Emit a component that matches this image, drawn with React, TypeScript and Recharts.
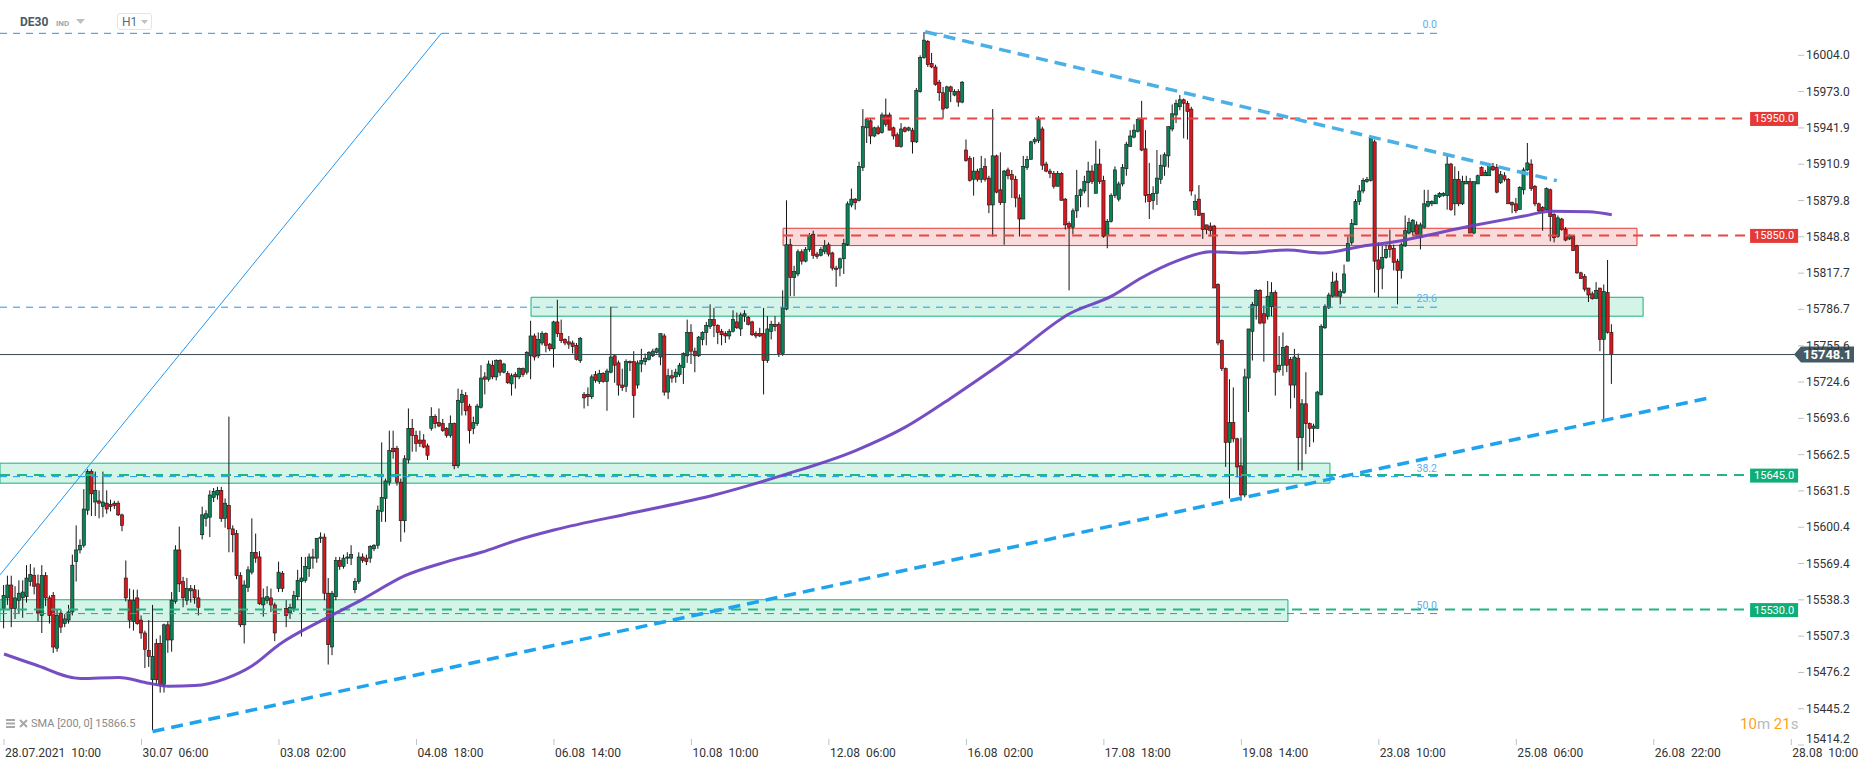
import React from 'react';
import {
  ComposedChart,
  Bar,
  Line,
  XAxis,
  YAxis,
  ReferenceLine,
  ReferenceArea,
  ReferenceDot,
} from 'recharts';

// ---------------------------------------------------------------------------
// Theme
// ---------------------------------------------------------------------------
const FONT = 'Roboto, "Noto Sans", sans-serif';
const UP = '#0a8456';
const DOWN = '#d7191f';
const WICK = '#151515';
const FIB_BLUE = '#2196f3';
const GREEN_LINE = '#1fb884';
const RED_LINE = '#e84545';
const SMA_COLOR = '#6a3fbf';
const AXIS_TEXT = '#333333';

// ---------------------------------------------------------------------------
// Data (H1 candles: open, high, low, close)
// ---------------------------------------------------------------------------
const CANDLES: [number, number, number, number][] = [
  [15531, 15551, 15514, 15542], [15540, 15559, 15534, 15551], [15551, 15559, 15515, 15531], [15531, 15550, 15522, 15540],
  [15538, 15555, 15527, 15544], [15540, 15555, 15523, 15545], [15541, 15568, 15536, 15557], [15554, 15569, 15550, 15560],
  [15559, 15566, 15543, 15550], [15552, 15560, 15520, 15527], [15525, 15568, 15510, 15559], [15559, 15562, 15533, 15540],
  [15540, 15542, 15518, 15525], [15542, 15545, 15493, 15498], [15497, 15530, 15494, 15525], [15527, 15530, 15510, 15515],
  [15518, 15526, 15515, 15522], [15521, 15534, 15518, 15528], [15528, 15577, 15525, 15568], [15571, 15602, 15554, 15581],
  [15581, 15590, 15578, 15585], [15585, 15633, 15583, 15616], [15615, 15650, 15611, 15648], [15648, 15650, 15610, 15629],
  [15622, 15648, 15610, 15632], [15623, 15632, 15608, 15621], [15618, 15648, 15609, 15622], [15621, 15632, 15612, 15616],
  [15620, 15624, 15614, 15618], [15621, 15623, 15616, 15619], [15621, 15623, 15610, 15611], [15611, 15612, 15597, 15602],
  [15557, 15572, 15537, 15540], [15538, 15548, 15514, 15521], [15520, 15547, 15512, 15538], [15540, 15547, 15517, 15518],
  [15521, 15525, 15505, 15510], [15510, 15512, 15480, 15496], [15495, 15521, 15481, 15490], [15470, 15534, 15427, 15490],
  [15501, 15505, 15466, 15470], [15501, 15508, 15459, 15466], [15466, 15518, 15459, 15517], [15517, 15520, 15493, 15504],
  [15504, 15545, 15494, 15538], [15537, 15585, 15535, 15581], [15581, 15601, 15545, 15552], [15554, 15558, 15532, 15540],
  [15538, 15557, 15534, 15548], [15546, 15551, 15536, 15548], [15547, 15551, 15535, 15540], [15540, 15547, 15525, 15532],
  [15594, 15618, 15590, 15611], [15608, 15615, 15601, 15612], [15609, 15632, 15592, 15628], [15626, 15634, 15622, 15631],
  [15628, 15635, 15624, 15632], [15632, 15635, 15605, 15608], [15608, 15625, 15600, 15621], [15619, 15695, 15579, 15599],
  [15599, 15602, 15579, 15594], [15595, 15598, 15556, 15559], [15559, 15562, 15515, 15517], [15517, 15555, 15501, 15551],
  [15549, 15567, 15545, 15564], [15562, 15608, 15560, 15579], [15579, 15595, 15570, 15574], [15575, 15580, 15534, 15535],
  [15534, 15548, 15524, 15540], [15538, 15550, 15535, 15541], [15540, 15548, 15528, 15534], [15534, 15536, 15503, 15510],
  [15548, 15571, 15545, 15562],
  [15561, 15563, 15545, 15548], [15531, 15538, 15515, 15525], [15527, 15535, 15522, 15532], [15531, 15546, 15528, 15542],
  [15541, 15564, 15538, 15555], [15554, 15575, 15507, 15557], [15555, 15575, 15553, 15567], [15565, 15578, 15558, 15575],
  [15575, 15582, 15565, 15574], [15574, 15591, 15570, 15591], [15591, 15596, 15587, 15592], [15592, 15595, 15538, 15544],
  [15544, 15557, 15483, 15500], [15498, 15546, 15491, 15544], [15541, 15575, 15538, 15572], [15572, 15575, 15564, 15567],
  [15567, 15577, 15565, 15574], [15574, 15579, 15569, 15575], [15574, 15585, 15568, 15577], [15547, 15557, 15544, 15554],
  [15554, 15579, 15552, 15575], [15575, 15578, 15570, 15572], [15574, 15577, 15568, 15571], [15574, 15585, 15570, 15584],
  [15582, 15586, 15580, 15585], [15585, 15619, 15582, 15615], [15614, 15673, 15605, 15626], [15625, 15642, 15605, 15640],
  [15639, 15683, 15636, 15666], [15668, 15683, 15659, 15665], [15668, 15670, 15636, 15639], [15639, 15642, 15588, 15606],
  [15606, 15662, 15596, 15659], [15658, 15702, 15655, 15685], [15685, 15693, 15665, 15679], [15679, 15683, 15665, 15672],
  [15675, 15683, 15669, 15672], [15675, 15680, 15668, 15669], [15670, 15672, 15658, 15662], [15685, 15703, 15683, 15695],
  [15695, 15697, 15685, 15689], [15690, 15702, 15686, 15687], [15689, 15693, 15682, 15683], [15685, 15686, 15677, 15679],
  [15679, 15696, 15677, 15689], [15689, 15690, 15650, 15653], [15653, 15719, 15651, 15709], [15707, 15718, 15696, 15714],
  [15713, 15716, 15696, 15700], [15704, 15706, 15672, 15683], [15685, 15695, 15680, 15690], [15689, 15706, 15687, 15704],
  [15703, 15739, 15702, 15728], [15729, 15733, 15714, 15727], [15727, 15743, 15725, 15740], [15739, 15743, 15727, 15729],
  [15729, 15744, 15726, 15743], [15743, 15744, 15730, 15733], [15733, 15741, 15732, 15740], [15732, 15734, 15723, 15724],
  [15723, 15732, 15713, 15730], [15731, 15733, 15719, 15729], [15729, 15737, 15727, 15736], [15736, 15737, 15729, 15731],
  [15733, 15751, 15731, 15750], [15747, 15777, 15727, 15764], [15764, 15766, 15743, 15746], [15747, 15767, 15745, 15761],
  [15758, 15768, 15756, 15766], [15766, 15767, 15750, 15756], [15757, 15758, 15751, 15753], [15753, 15777, 15737, 15776],
  [15776, 15795, 15763, 15766], [15766, 15778, 15758, 15760],
  [15761, 15762, 15756, 15758], [15759, 15764, 15753, 15757], [15758, 15760, 15749, 15755], [15756, 15758, 15743, 15744],
  [15743, 15763, 15741, 15762], [15714, 15716, 15702, 15711], [15714, 15720, 15704, 15712], [15712, 15731, 15710, 15729],
  [15731, 15734, 15724, 15726], [15725, 15735, 15723, 15732], [15732, 15733, 15724, 15725], [15725, 15736, 15700, 15734],
  [15733, 15789, 15732, 15746], [15747, 15748, 15724, 15739], [15741, 15743, 15713, 15722], [15722, 15736, 15717, 15720],
  [15721, 15744, 15716, 15742], [15742, 15743, 15734, 15741], [15742, 15751, 15694, 15713], [15722, 15743, 15719, 15741],
  [15740, 15753, 15733, 15743], [15742, 15749, 15739, 15745], [15744, 15751, 15743, 15750], [15747, 15753, 15746, 15751],
  [15750, 15754, 15749, 15753], [15746, 15766, 15739, 15766], [15764, 15766, 15713, 15716], [15716, 15736, 15710, 15730],
  [15730, 15735, 15724, 15728], [15729, 15736, 15724, 15733], [15731, 15741, 15729, 15739], [15737, 15750, 15723, 15749],
  [15747, 15778, 15741, 15767], [15767, 15774, 15740, 15751], [15751, 15754, 15733, 15747], [15747, 15764, 15746, 15763],
  [15761, 15768, 15756, 15767], [15767, 15776, 15756, 15773], [15772, 15791, 15770, 15778], [15778, 15788, 15763, 15773],
  [15773, 15774, 15757, 15767], [15768, 15770, 15756, 15765], [15766, 15768, 15758, 15764], [15764, 15770, 15761, 15768],
  [15768, 15786, 15767, 15778], [15776, 15784, 15770, 15771], [15770, 15784, 15764, 15782], [15781, 15786, 15776, 15783],
  [15780, 15781, 15773, 15774], [15776, 15777, 15764, 15765], [15766, 15768, 15762, 15764], [15766, 15771, 15763, 15764],
  [15766, 15788, 15714, 15743], [15743, 15781, 15741, 15770], [15768, 15777, 15761, 15774], [15774, 15781, 15768, 15772],
  [15774, 15776, 15746, 15749], [15749, 15803, 15747, 15788], [15787, 15880, 15786, 15842], [15842, 15847, 15798, 15814],
  [15814, 15824, 15798, 15819], [15817, 15838, 15815, 15836], [15836, 15838, 15825, 15828], [15828, 15840, 15827, 15838],
  [15838, 15852, 15836, 15850], [15851, 15854, 15830, 15833], [15834, 15836, 15830, 15832], [15833, 15840, 15832, 15838],
  [15836, 15846, 15834, 15841], [15842, 15844, 15832, 15834], [15835, 15836, 15820, 15822], [15822, 15824, 15806, 15821],
  [15822, 15831, 15815, 15830], [15830, 15847, 15817, 15843], [15842, 15879, 15841, 15877],
  [15876, 15890, 15874, 15881], [15881, 15882, 15872, 15878], [15880, 15913, 15879, 15909], [15908, 15958, 15905, 15943],
  [15942, 15950, 15929, 15949], [15948, 15950, 15928, 15935], [15935, 15943, 15934, 15942], [15942, 15944, 15936, 15937],
  [15938, 15955, 15937, 15953], [15953, 15967, 15943, 15945], [15953, 15955, 15940, 15940], [15942, 15943, 15932, 15935],
  [15936, 15938, 15926, 15926], [15926, 15946, 15925, 15941], [15942, 15943, 15938, 15939], [15940, 15943, 15939, 15942],
  [15940, 15942, 15920, 15930], [15930, 15976, 15929, 15974], [15973, 16004, 15972, 16002], [16002, 16024, 16001, 16017],
  [16016, 16017, 15994, 15996], [15997, 16006, 15993, 15994], [15994, 15996, 15978, 15979], [15981, 15983, 15965, 15972],
  [15972, 15977, 15950, 15958], [15959, 15978, 15958, 15977], [15977, 15978, 15964, 15973], [15970, 15975, 15969, 15973],
  [15973, 15975, 15960, 15964], [15964, 15982, 15963, 15981], [15923, 15932, 15913, 15914], [15916, 15918, 15896, 15897],
  [15898, 15917, 15884, 15905], [15905, 15907, 15896, 15898], [15898, 15918, 15895, 15907], [15909, 15916, 15896, 15898],
  [15899, 15901, 15869, 15876], [15876, 15958, 15849, 15918], [15918, 15919, 15886, 15887], [15889, 15921, 15876, 15878],
  [15878, 15906, 15842, 15905], [15906, 15908, 15898, 15901], [15902, 15906, 15882, 15898], [15898, 15901, 15874, 15882],
  [15882, 15885, 15849, 15864], [15864, 15918, 15864, 15909], [15908, 15918, 15906, 15915], [15915, 15931, 15915, 15930],
  [15930, 15934, 15928, 15932], [15931, 15952, 15929, 15949], [15941, 15943, 15906, 15910], [15911, 15913, 15904, 15905],
  [15905, 15907, 15899, 15903], [15903, 15905, 15890, 15892], [15892, 15905, 15892, 15903], [15903, 15904, 15880, 15880],
  [15881, 15882, 15855, 15859], [15860, 15862, 15803, 15857], [15857, 15873, 15851, 15871], [15871, 15906, 15865, 15884],
  [15884, 15890, 15874, 15889], [15888, 15901, 15886, 15896], [15895, 15913, 15874, 15905], [15905, 15910, 15894, 15896],
  [15886, 15931, 15886, 15911], [15911, 15924, 15894, 15896], [15897, 15901, 15848, 15849], [15850, 15864, 15839, 15862],
  [15862, 15886, 15861, 15884], [15884, 15909, 15882, 15906],
  [15881, 15896, 15879, 15894], [15894, 15911, 15892, 15908], [15907, 15930, 15901, 15928], [15926, 15940, 15926, 15935],
  [15934, 15945, 15933, 15940], [15939, 15950, 15938, 15949], [15949, 15965, 15922, 15923], [15924, 15940, 15878, 15884],
  [15885, 15912, 15864, 15879], [15880, 15892, 15872, 15886], [15886, 15923, 15876, 15899], [15898, 15919, 15894, 15910],
  [15909, 15921, 15901, 15919], [15918, 15943, 15908, 15943], [15941, 15962, 15939, 15954], [15953, 15966, 15946, 15963],
  [15960, 15970, 15957, 15966], [15966, 15967, 15933, 15963], [15963, 15965, 15932, 15956], [15958, 15960, 15884, 15888],
  [15872, 15885, 15867, 15879], [15881, 15893, 15867, 15867], [15869, 15869, 15847, 15855], [15859, 15859, 15851, 15855],
  [15858, 15861, 15849, 15854], [15858, 15859, 15805, 15805], [15808, 15809, 15756, 15758], [15760, 15761, 15734, 15736],
  [15736, 15737, 15652, 15673], [15673, 15727, 15625, 15690], [15690, 15720, 15673, 15676], [15676, 15677, 15643, 15652],
  [15653, 15677, 15623, 15628], [15628, 15736, 15626, 15729], [15728, 15770, 15699, 15770], [15768, 15793, 15743, 15791],
  [15790, 15804, 15778, 15803], [15803, 15804, 15774, 15775], [15783, 15790, 15742, 15775], [15781, 15811, 15778, 15798],
  [15789, 15810, 15781, 15801], [15801, 15803, 15713, 15733], [15735, 15764, 15733, 15739], [15739, 15767, 15730, 15754],
  [15755, 15756, 15733, 15739], [15744, 15746, 15702, 15722], [15722, 15753, 15711, 15746], [15745, 15749, 15649, 15677],
  [15677, 15710, 15649, 15706], [15706, 15733, 15663, 15689], [15689, 15690, 15669, 15685], [15685, 15689, 15673, 15687],
  [15685, 15717, 15685, 15716], [15714, 15774, 15713, 15772], [15771, 15791, 15770, 15789], [15788, 15801, 15787, 15799],
  [15798, 15819, 15797, 15810], [15811, 15818, 15798, 15798], [15798, 15804, 15791, 15802], [15801, 15825, 15800, 15817],
  [15828, 15849, 15828, 15843], [15844, 15864, 15842, 15860], [15859, 15881, 15859, 15879], [15879, 15893, 15876, 15888],
  [15888, 15899, 15886, 15897], [15896, 15900, 15895, 15898], [15897, 15935, 15896, 15934], [15930, 15932, 15801, 15828],
  [15829, 15844, 15797, 15821], [15822, 15841, 15804, 15831], [15831, 15842, 15830, 15838], [15841, 15855, 15831, 15838],
  [15839, 15842, 15820, 15827], [15828, 15830, 15791, 15820], [15820, 15844, 15813, 15842], [15841, 15867, 15840, 15854],
  [15852, 15865, 15851, 15861], [15853, 15864, 15850, 15863], [15859, 15862, 15849, 15851], [15848, 15861, 15838, 15859],
  [15857, 15889, 15856, 15877], [15875, 15889, 15874, 15879], [15877, 15880, 15875, 15879], [15877, 15885, 15877, 15884],
  [15883, 15887, 15882, 15886], [15884, 15887, 15883, 15886], [15884, 15919, 15872, 15911], [15911, 15912, 15871, 15872],
  [15877, 15909, 15867, 15898], [15898, 15905, 15875, 15877], [15877, 15901, 15876, 15896], [15894, 15901, 15894, 15896],
  [15896, 15899, 15852, 15852], [15852, 15896, 15851, 15896], [15894, 15902, 15894, 15901], [15908, 15909, 15901, 15901],
  [15901, 15906, 15901, 15904], [15901, 15911, 15901, 15910], [15909, 15912, 15905, 15906], [15908, 15911, 15886, 15887],
  [15895, 15905, 15894, 15902], [15901, 15904, 15896, 15898], [15898, 15899, 15877, 15877], [15878, 15879, 15869, 15876],
  [15877, 15882, 15869, 15871], [15872, 15892, 15872, 15891], [15889, 15908, 15885, 15906], [15906, 15929, 15905, 15912],
  [15911, 15915, 15888, 15890], [15892, 15893, 15875, 15877], [15877, 15878, 15869, 15871], [15874, 15875, 15854, 15871],
  [15872, 15891, 15871, 15890], [15889, 15890, 15845, 15866], [15868, 15869, 15844, 15848], [15849, 15867, 15848, 15865],
  [15864, 15865, 15854, 15855], [15855, 15857, 15845, 15846], [15847, 15851, 15846, 15850], [15849, 15850, 15837, 15837],
  [15841, 15842, 15817, 15818], [15818, 15819, 15813, 15813], [15815, 15817, 15802, 15804], [15805, 15805, 15793, 15799],
  [15800, 15802, 15795, 15796], [15796, 15810, 15796, 15803], [15805, 15805, 15751, 15761], [15761, 15808, 15693, 15802],
  [15801, 15829, 15766, 15767], [15767, 15774, 15723, 15748.1],
];

// SMA(200): [candle index, value]
const SMA_POINTS: [number, number][] = [
  [0, 15492], [8, 15483], [20, 15471], [30, 15472], [38, 15467], [43, 15464.5], [50, 15465], [58, 15471],
  [65, 15482], [72, 15500], [84, 15522], [94, 15539], [105, 15559], [116, 15571], [125, 15579], [134, 15589],
  [144, 15598], [165, 15613], [186, 15628], [204, 15645], [223, 15666], [236, 15686], [248, 15711], [264, 15747],
  [279, 15783], [290, 15798], [298, 15814], [307, 15828], [316, 15836], [324, 15835], [336, 15837.5], [345, 15835],
  [356, 15841], [363, 15844], [384, 15858], [398, 15866.5], [405, 15870.7], [415, 15870.2], [421, 15867.6],
];

const X_TICKS = [0, 36, 72, 108, 144, 180, 216, 252, 288, 324, 360, 396, 432, 468];
const X_LABELS = [
  '28.07.2021  10:00', '30.07  06:00', '03.08  02:00', '04.08  18:00', '06.08  14:00', '10.08  10:00',
  '12.08  06:00', '16.08  02:00', '17.08  18:00', '19.08  14:00', '23.08  10:00', '25.08  06:00',
  '26.08  22:00', '28.08  10:00',
];
const X_DOMAIN: [number, number] = [-1.05, 469.76];

const Y_TICKS = [
  16004.0, 15973.0, 15941.9, 15910.9, 15879.8, 15848.8, 15817.7, 15786.7, 15755.6, 15724.6,
  15693.6, 15662.5, 15631.5, 15600.4, 15569.4, 15538.3, 15507.3, 15476.2, 15445.2, 15414.2,
];
const Y_DOMAIN: [number, number] = [15414.2, 16051.3];

const FIB_LEVELS = [
  { label: '0.0', price: 16022.8 },
  { label: '23.6', price: 15788.6 },
  { label: '38.2', price: 15643.7 },
  { label: '50.0', price: 15526.6 },
];
const FIB_END = 376.8;

const RED_LEVELS = [
  { price: 15950, from: 225.5 },
  { price: 15850, from: 204 },
];
const GREEN_LEVELS = [
  { price: 15645, from: -1.05 },
  { price: 15530, from: -1.05 },
];
const LEVEL_END = 456.1;
const LEVEL_TAG_X = 463.5;

const GREEN_ZONES = [
  { x1: 138, x2: 429.2, y1: 15780.9, y2: 15797.1 },
  { x1: -1.05, x2: 347.2, y1: 15638.1, y2: 15655.2 },
  { x1: -1.05, x2: 336.2, y1: 15519.8, y2: 15538.4 },
];
const RED_ZONE = { x1: 204, x2: 427.6, y1: 15841.3, y2: 15856.1 };

// [x1, y1, x2, y2] in candle index / price
const THIN_TREND: [number, number, number, number] = [-1.05, 15559.7, 114.6, 16023.1];
const UPPER_TREND: [number, number, number, number] = [241.2, 16024.2, 406.6, 15896.8];
const LOWER_TREND: [number, number, number, number] = [38.9, 15425.8, 447, 15711.4];

const LAST_PRICE = 15748.1;
const SMA_LABEL = 'SMA [200, 0] 15866.5';

const smaByIndex = new Map(SMA_POINTS.map(([i, v]) => [i, v]));
const chartData = CANDLES.map(([o, h, l, c], i) => ({
  i,
  o,
  h,
  l,
  c,
  range: [l, h],
  sma: smaByIndex.has(i) ? smaByIndex.get(i) : null,
}));

// ---------------------------------------------------------------------------
// Shapes
// ---------------------------------------------------------------------------
function Candle(props: any) {
  const { x, y, width, height, payload } = props;
  if (!payload || x == null || y == null) return null;
  const { o, h, l, c } = payload;
  const top = Math.min(y, y + height);
  const hh = Math.abs(height);
  const cx = x + width / 2;
  const k = h === l ? 0 : hh / (h - l);
  const yO = top + (h - o) * k;
  const yC = top + (h - c) * k;
  const bodyTop = Math.min(yO, yC);
  const bodyH = Math.max(Math.abs(yO - yC), 1);
  return (
    <g>
      <line x1={cx} x2={cx} y1={top} y2={top + hh} stroke={WICK} strokeWidth={1} />
      <rect
        x={cx - 1.6}
        y={bodyTop}
        width={3.2}
        height={bodyH}
        fill={c >= o ? UP : DOWN}
        stroke={WICK}
        strokeWidth={0.6}
      />
    </g>
  );
}

function XTick(props: any) {
  const { x, y, payload } = props;
  const idx = X_TICKS.indexOf(payload.value);
  return (
    <g>
      <line x1={x} x2={x} y1={y - 14} y2={y - 8} stroke="#b8c4ca" strokeWidth={1} />
      <text
        x={x + 1}
        y={y + 4}
        fill={AXIS_TEXT}
        fontSize={12}
        fontFamily={FONT}
        style={{ whiteSpace: 'pre' }}
      >
        {X_LABELS[idx] ?? ''}
      </text>
    </g>
  );
}

function YTick(props: any) {
  const { x, y, payload } = props;
  const v = Number(payload.value);
  const dy = v === Y_DOMAIN[0] ? -6 : 0;
  return (
    <g>
      <line x1={x - 8} x2={x - 2} y1={y} y2={y} stroke="#b8c4ca" strokeWidth={1} />
      <text x={x} y={y + dy + 4} fill={AXIS_TEXT} fontSize={12} fontFamily={FONT}>
        {v.toFixed(1)}
      </text>
    </g>
  );
}

function levelTag(text: string, color: string) {
  return (props: any) => {
    const { cx, cy } = props;
    return (
      <g>
        <rect x={cx - 24} y={cy - 6.5} width={48} height={14} fill={color} />
        <text
          x={cx}
          y={cy + 4}
          textAnchor="middle"
          fill="#ffffff"
          fontSize={11}
          fontFamily={FONT}
        >
          {text}
        </text>
      </g>
    );
  };
}

function lastPriceTag(props: any) {
  const { cx, cy } = props;
  const x0 = cx - 4;
  return (
    <g>
      <path
        d={`M${x0},${cy} L${x0 + 7},${cy - 8} L${x0 + 60},${cy - 8} L${x0 + 60},${cy + 8} L${x0 + 7},${cy + 8} Z`}
        fill="#455a64"
      />
      <text x={x0 + 9} y={cy + 4.5} fill="#ffffff" fontSize={13} fontWeight={700} fontFamily={FONT}>
        {LAST_PRICE.toFixed(1)}
      </text>
    </g>
  );
}

function fibTag(text: string) {
  return (props: any) => {
    const { cx, cy } = props;
    return (
      <text
        x={cx - 6}
        y={cy - 5}
        textAnchor="end"
        fill="#5aaef0"
        fontSize={10.5}
        fontFamily={FONT}
      >
        {text}
      </text>
    );
  };
}

// ---------------------------------------------------------------------------
// Component
// ---------------------------------------------------------------------------
export default function App() {
  return (
    <div
      style={{
        position: 'absolute',
        left: 0,
        top: 0,
        width: 1866,
        height: 770,
        background: '#ffffff',
        fontFamily: FONT,
        overflow: 'hidden',
      }}
    >
      <ComposedChart
        width={1866}
        height={770}
        data={chartData}
        margin={{ top: 0, right: 0, bottom: 0, left: 0 }}
      >
        <XAxis
          dataKey="i"
          type="number"
          domain={X_DOMAIN}
          allowDataOverflow
          ticks={X_TICKS}
          interval={0}
          height={25}
          axisLine={false}
          tickLine={false}
          tickSize={6}
          tickMargin={2}
          tick={<XTick />}
        />
        <YAxis
          orientation="right"
          domain={Y_DOMAIN}
          allowDataOverflow
          ticks={Y_TICKS}
          interval={0}
          width={68}
          axisLine={false}
          tickLine={false}
          tickSize={6}
          tickMargin={2}
          tick={<YTick />}
        />

        {/* Zones */}
        {GREEN_ZONES.map((z, k) => (
          <ReferenceArea
            key={`gz${k}`}
            x1={z.x1}
            x2={z.x2}
            y1={z.y1}
            y2={z.y2}
            fill="rgb(0,190,120)"
            fillOpacity={0.17}
            stroke="#16b27c"
            strokeWidth={1}
            strokeOpacity={1}
            ifOverflow="visible"
          />
        ))}
        <ReferenceArea
          x1={RED_ZONE.x1}
          x2={RED_ZONE.x2}
          y1={RED_ZONE.y1}
          y2={RED_ZONE.y2}
          fill="rgb(229,57,53)"
          fillOpacity={0.18}
          stroke="#e53935"
          strokeWidth={1}
          strokeOpacity={1}
          ifOverflow="visible"
        />

        {/* Fibonacci levels */}
        {FIB_LEVELS.map((f) => (
          <ReferenceLine
            key={`fib${f.label}`}
            segment={[
              { x: X_DOMAIN[0], y: f.price },
              { x: FIB_END, y: f.price },
            ]}
            stroke={FIB_BLUE}
            strokeWidth={1}
            strokeDasharray="7 6"
            ifOverflow="visible"
          />
        ))}

        {/* Horizontal levels */}
        {GREEN_LEVELS.map((g) => (
          <ReferenceLine
            key={`gl${g.price}`}
            segment={[
              { x: g.from, y: g.price },
              { x: LEVEL_END, y: g.price },
            ]}
            stroke={GREEN_LINE}
            strokeWidth={2}
            strokeDasharray="10 7"
            ifOverflow="visible"
          />
        ))}
        {RED_LEVELS.map((r) => (
          <ReferenceLine
            key={`rl${r.price}`}
            segment={[
              { x: r.from, y: r.price },
              { x: LEVEL_END, y: r.price },
            ]}
            stroke={RED_LINE}
            strokeWidth={2}
            strokeDasharray="10 7"
            ifOverflow="visible"
          />
        ))}

        {/* Last price line */}
        <ReferenceLine y={LAST_PRICE} stroke="#37474f" strokeWidth={1} ifOverflow="visible" />

        {/* Trend lines */}
        <ReferenceLine
          segment={[
            { x: THIN_TREND[0], y: THIN_TREND[1] },
            { x: THIN_TREND[2], y: THIN_TREND[3] },
          ]}
          stroke={FIB_BLUE}
          strokeWidth={1}
          ifOverflow="visible"
        />

        <Bar
          dataKey="range"
          barSize={3}
          shape={<Candle />}
          isAnimationActive={false}
        />

        <Line
          dataKey="sma"
          type="monotone"
          stroke={SMA_COLOR}
          strokeWidth={3}
          strokeOpacity={0.92}
          dot={false}
          activeDot={false}
          connectNulls
          isAnimationActive={false}
        />

        <ReferenceLine
          segment={[
            { x: UPPER_TREND[0], y: UPPER_TREND[1] },
            { x: UPPER_TREND[2], y: UPPER_TREND[3] },
          ]}
          stroke="#4ab0e6"
          strokeWidth={3.5}
          strokeDasharray="12 7"
          ifOverflow="visible"
        />
        <ReferenceLine
          segment={[
            { x: LOWER_TREND[0], y: LOWER_TREND[1] },
            { x: LOWER_TREND[2], y: LOWER_TREND[3] },
          ]}
          stroke="#1ea3ee"
          strokeWidth={3.5}
          strokeDasharray="12 7"
          ifOverflow="visible"
        />

        {/* Tags */}
        {FIB_LEVELS.map((f) => (
          <ReferenceDot
            key={`ft${f.label}`}
            x={FIB_END}
            y={f.price}
            r={1}
            ifOverflow="visible"
            shape={fibTag(f.label)}
          />
        ))}
        {RED_LEVELS.map((r) => (
          <ReferenceDot
            key={`rt${r.price}`}
            x={LEVEL_TAG_X}
            y={r.price}
            r={1}
            ifOverflow="visible"
            shape={levelTag(r.price.toFixed(1), '#e53935')}
          />
        ))}
        {GREEN_LEVELS.map((g) => (
          <ReferenceDot
            key={`gt${g.price}`}
            x={LEVEL_TAG_X}
            y={g.price}
            r={1}
            ifOverflow="visible"
            shape={levelTag(g.price.toFixed(1), '#0fae77')}
          />
        ))}
        <ReferenceDot
          x={X_DOMAIN[1]}
          y={LAST_PRICE}
          r={1}
          ifOverflow="visible"
          shape={lastPriceTag}
        />
      </ComposedChart>

      {/* Header */}
      <div style={{ position: 'absolute', left: 20, top: 15, fontSize: 12, fontWeight: 700, color: '#455a64' }}>
        DE30
      </div>
      <div style={{ position: 'absolute', left: 56, top: 19, fontSize: 8, fontWeight: 700, color: '#9aa9b1' }}>
        IND
      </div>
      <svg style={{ position: 'absolute', left: 76, top: 19 }} width={10} height={6}>
        <path d="M0,0 L9,0 L4.5,5 Z" fill="#b7c2c8" />
      </svg>
      <div
        style={{
          position: 'absolute',
          left: 117,
          top: 13,
          width: 35,
          height: 17,
          border: '1px solid #e3e6e8',
          borderRadius: 3,
          boxSizing: 'border-box',
        }}
      >
        <span style={{ position: 'absolute', left: 4, top: 1, fontSize: 12, color: '#546e7a' }}>H1</span>
        <svg style={{ position: 'absolute', left: 23, top: 6 }} width={8} height={5}>
          <path d="M0,0 L7,0 L3.5,4 Z" fill="#b7c2c8" />
        </svg>
      </div>

      {/* Indicator legend */}
      <svg style={{ position: 'absolute', left: 6, top: 719 }} width={24} height={10}>
        <rect x={0} y={0} width={9} height={2} fill="#a8a8a8" />
        <rect x={0} y={3.5} width={9} height={2} fill="#a8a8a8" />
        <rect x={0} y={7} width={9} height={2} fill="#a8a8a8" />
        <path d="M14,1 L21,8 M21,1 L14,8" stroke="#a8a8a8" strokeWidth={2} />
      </svg>
      <div style={{ position: 'absolute', left: 31, top: 717, fontSize: 11, color: '#8a8a8a', whiteSpace: 'pre' }}>
        {SMA_LABEL}
      </div>

      {/* Candle countdown */}
      <div style={{ position: 'absolute', left: 1740, top: 715, fontSize: 15, whiteSpace: 'pre' }}>
        <span style={{ color: '#ffa31a' }}>10</span>
        <span style={{ color: '#b9b9b9' }}>m </span>
        <span style={{ color: '#ffa31a' }}>21</span>
        <span style={{ color: '#b9b9b9' }}>s</span>
      </div>
    </div>
  );
}
